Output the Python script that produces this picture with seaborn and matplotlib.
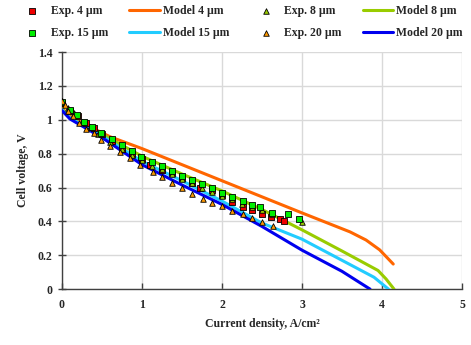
import matplotlib
matplotlib.use("Agg")
import matplotlib.pyplot as plt
import seaborn as sns
import pandas as pd

# ---- data ----
exp4_x = [0.0, 0.1, 0.2, 0.3, 0.4, 0.5, 0.62, 0.75, 0.87, 1.0, 1.1, 1.25, 1.37, 1.5, 1.62, 1.73, 1.87, 2.0, 2.13, 2.26, 2.38, 2.5, 2.61, 2.72, 2.77]
exp4_y = [1.10, 1.05, 1.02, 0.98, 0.95, 0.915, 0.875, 0.83, 0.80, 0.77, 0.736, 0.703, 0.685, 0.655, 0.624, 0.595, 0.585, 0.555, 0.512, 0.486, 0.47, 0.441, 0.427, 0.412, 0.403]

exp15_x = [0.0, 0.1, 0.19, 0.275, 0.37, 0.49, 0.62, 0.75, 0.875, 0.99, 1.13, 1.25, 1.37, 1.5, 1.62, 1.75, 1.87, 2.0, 2.12, 2.26, 2.38, 2.47, 2.63, 2.82, 2.96]
exp15_y = [1.106, 1.06, 1.028, 0.988, 0.96, 0.923, 0.884, 0.85, 0.815, 0.78, 0.752, 0.727, 0.699, 0.667, 0.644, 0.62, 0.595, 0.569, 0.545, 0.522, 0.496, 0.483, 0.451, 0.441, 0.413]

exp8_x = [0.0, 0.07, 0.15, 0.25, 0.35, 0.45, 0.6, 0.75, 0.87, 1.0, 1.12, 1.25, 1.37, 1.5, 1.62, 1.75, 1.87, 2.0, 2.12, 2.25, 2.37, 2.5, 2.62, 3.0]
exp8_y = [1.11, 1.07, 1.04, 0.99, 0.955, 0.915, 0.87, 0.825, 0.79, 0.76, 0.73, 0.71, 0.68, 0.65, 0.625, 0.60, 0.575, 0.55, 0.53, 0.505, 0.485, 0.465, 0.445, 0.395]

exp20_x = [0.0, 0.04, 0.075, 0.14, 0.21, 0.3, 0.4, 0.49, 0.6, 0.72, 0.85, 0.97, 1.14, 1.25, 1.37, 1.5, 1.62, 1.76, 1.87, 2.0, 2.13, 2.26, 2.38, 2.5, 2.64]
exp20_y = [1.11, 1.085, 1.053, 1.02, 0.984, 0.943, 0.92, 0.88, 0.845, 0.81, 0.772, 0.732, 0.693, 0.664, 0.624, 0.60, 0.561, 0.535, 0.506, 0.49, 0.463, 0.441, 0.421, 0.398, 0.372]

model4_x = [0.0, 0.1, 0.3, 0.6, 1.0, 1.5, 2.0, 2.5, 3.0, 3.6, 3.8, 3.97, 4.14]
model4_y = [1.07, 1.02, 0.97, 0.90, 0.83, 0.735, 0.64, 0.545, 0.45, 0.338, 0.29, 0.232, 0.148]

model8_x = [0.0, 0.1, 0.5, 1.0, 1.5, 2.0, 2.5, 3.0, 3.5, 3.95, 4.05, 4.15]
model8_y = [1.065, 1.01, 0.915, 0.785, 0.68, 0.58, 0.47, 0.35, 0.225, 0.11, 0.06, 0.0]

model15_x = [0.0, 0.1, 0.5, 1.0, 1.5, 2.0, 2.5, 3.0, 3.5, 3.9, 4.08]
model15_y = [1.06, 1.01, 0.905, 0.755, 0.64, 0.52, 0.39, 0.295, 0.17, 0.07, 0.0]

model20_x = [0.0, 0.1, 0.5, 1.0, 1.5, 2.0, 2.5, 3.0, 3.5, 3.85]
model20_y = [1.055, 1.005, 0.895, 0.735, 0.615, 0.50, 0.37, 0.23, 0.105, 0.0]

x_ticks = [0, 1, 2, 3, 4, 5]
y_ticks = [0, 0.2, 0.4, 0.6, 0.8, 1.0, 1.2, 1.4]
y_labels = ["0", "0.2", "0.4", "0.6", "0.8", "1", "1.2", "1.4"]

sns.set_style("white")
plt.rcParams["font.family"] = ["Liberation Serif", "DejaVu Serif"]
plt.rcParams["font.weight"] = "bold"

fig = plt.figure(figsize=(4.71, 3.45), dpi=100)
ax = fig.add_axes([0.1316, 0.162, 0.8494, 0.687])

models = [
    ("Model 4 µm", model4_x, model4_y, "#FF6600"),
    ("Model 8 µm", model8_x, model8_y, "#99CC00"),
    ("Model 15 µm", model15_x, model15_y, "#22CCFF"),
    ("Model 20 µm", model20_x, model20_y, "#0000EE"),
]
for name, xs, ys, c in models:
    df = pd.DataFrame({"x": xs, "y": ys})
    sns.lineplot(data=df, x="x", y="y", sort=False, estimator=None, color=c,
                 linewidth=2.2, ax=ax, label=name, zorder=3)

exps = [
    ("Exp. 4 µm", exp4_x, exp4_y, "#EE0000", "s"),
    ("Exp. 8 µm", exp8_x, exp8_y, "#99CC00", "^"),
    ("Exp. 15 µm", exp15_x, exp15_y, "#00EE00", "s"),
    ("Exp. 20 µm", exp20_x, exp20_y, "#FF9900", "^"),
]
for name, xs, ys, c, m in exps:
    df = pd.DataFrame({"x": xs, "y": ys})
    sns.scatterplot(data=df, x="x", y="y", color=c, marker=m, s=16,
                    edgecolor="black", linewidth=0.6, ax=ax, label=name, zorder=4)

ax.set_xlim(0, 5)
ax.set_ylim(0, 1.4)
ax.set_xticks(x_ticks)
ax.set_yticks(y_ticks)
ax.set_yticklabels(y_labels)
ax.grid(True, color="#d9d9d9", linewidth=1.0)
ax.set_axisbelow(True)
for s in ["top", "right"]:
    ax.spines[s].set_visible(False)
for s in ["left", "bottom"]:
    ax.spines[s].set_color("#404040")
    ax.spines[s].set_linewidth(1.0)
ax.tick_params(axis="y", direction="inout", length=6, width=1, color="#404040",
               labelsize=8.5, pad=4, left=True)
ax.tick_params(axis="x", direction="in", length=4, width=1, color="#404040",
               labelsize=8.5, pad=7, bottom=True)
for lab in ax.get_xticklabels() + ax.get_yticklabels():
    lab.set_fontweight("bold")
ax.set_xlabel("Current density, A/cm²", fontsize=8.5, fontweight="bold", labelpad=5)
ax.set_ylabel("Cell voltage, V", fontsize=8.5, fontweight="bold", labelpad=6)

h, l = ax.get_legend_handles_labels()
hd = dict(zip(l, h))
ax.get_legend().remove()
order = ["Exp. 4 µm", "Exp. 15 µm", "Model 4 µm", "Model 15 µm",
         "Exp. 8 µm", "Exp. 20 µm", "Model 8 µm", "Model 20 µm"]
fig.legend([hd[o] for o in order], order, ncol=4, loc="upper left",
           bbox_to_anchor=(0.026, 1.0), frameon=False,
           prop={"family": ["Liberation Serif"], "weight": "bold", "size": 8.5},
           handlelength=2.6, handletextpad=0.25, columnspacing=1.8,
           labelspacing=0.85, borderaxespad=0.2, borderpad=0.2)

fig.savefig("out.png", dpi=100)
